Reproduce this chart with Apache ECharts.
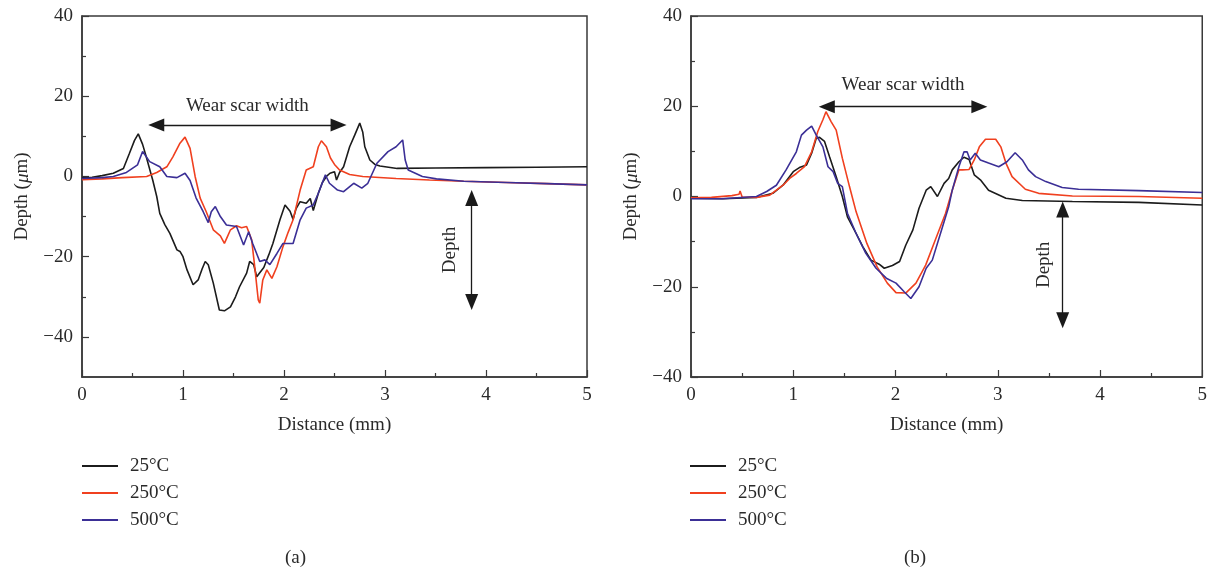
<!DOCTYPE html>
<html>
<head>
<meta charset="utf-8">
<script src="https://cdn.jsdelivr.net/npm/echarts@6/dist/echarts.min.js"></script>
<style>
  html, body { margin: 0; padding: 0; background: #ffffff; }
  #chart { width: 1210px; height: 573px; }
</style>
</head>
<body>
<div id="chart"></div>
<script>
// ---- Series names and tick values ----
const seriesNames = ['25°C', '250°C', '500°C'];
const xTicks = [0, 1, 2, 3, 4, 5];
const yTicksA = [-40, -20, 0, 20, 40];
const yMinorA = [-30, -10, 10, 30];

// ---- Panel (a): surface profiles [distance mm, depth µm] ----
const a25 = [[0,-0.3],[0.1,-0.2],[0.2,0.2],[0.31,0.8],[0.41,2],[0.47,5.8],[0.52,9],[0.557,10.6],[0.6,8],[0.636,4.9],[0.70,-0.9],[0.74,-5],[0.77,-9.2],[0.82,-12],[0.87,-14.2],[0.94,-18.3],[0.97,-18.7],[1.0,-20],[1.04,-23.3],[1.10,-27],[1.15,-25.8],[1.19,-23],[1.22,-21.2],[1.25,-22],[1.30,-26.6],[1.36,-33.3],[1.41,-33.5],[1.47,-32.5],[1.52,-30],[1.56,-27.5],[1.63,-24.1],[1.66,-21.2],[1.70,-22],[1.73,-25],[1.76,-24],[1.80,-22.7],[1.85,-19.5],[1.89,-16.7],[1.96,-10.8],[2.01,-7.1],[2.06,-8.7],[2.09,-10.7],[2.12,-8],[2.16,-6.3],[2.22,-6.7],[2.26,-5.5],[2.29,-8.5],[2.34,-4.2],[2.38,-1.5],[2.42,0],[2.455,0.8],[2.50,1.2],[2.52,-0.9],[2.55,1],[2.59,2.4],[2.65,7.4],[2.70,10.3],[2.75,13.3],[2.78,11],[2.80,7.4],[2.85,4.1],[2.90,3],[2.95,2.6],[3.12,2.0],[3.5,2.1],[4,2.2],[4.5,2.3],[5,2.4]];
const a250 = [[0,-0.8],[0.2,-0.6],[0.4,-0.3],[0.64,0],[0.74,1],[0.84,2.4],[0.90,4.9],[0.97,8.3],[1.02,9.8],[1.07,7],[1.12,0],[1.17,-5.4],[1.23,-8.8],[1.30,-13.3],[1.37,-14.8],[1.41,-16.7],[1.44,-15],[1.47,-13.3],[1.53,-12.3],[1.58,-12.8],[1.63,-12.5],[1.68,-15.8],[1.71,-22.5],[1.745,-30.8],[1.76,-31.6],[1.79,-25.8],[1.83,-23.3],[1.88,-25.4],[1.93,-22.5],[1.99,-17.5],[2.04,-14],[2.09,-10.8],[2.16,-3.4],[2.22,1.6],[2.29,2.4],[2.34,7.4],[2.37,8.9],[2.42,7.4],[2.46,4.6],[2.50,3],[2.55,1.6],[2.65,0.5],[2.78,0],[3.11,-0.5],[3.44,-0.9],[3.78,-1.2],[4.2,-1.5],[4.6,-1.8],[5,-2.1]];
const a500 = [[0,-0.5],[0.2,-0.3],[0.31,0],[0.44,1],[0.55,2.9],[0.60,6.2],[0.67,3.7],[0.77,2.4],[0.84,0],[0.94,-0.3],[1.02,0.8],[1.07,-1],[1.13,-5.4],[1.20,-8.8],[1.25,-11.5],[1.28,-8.8],[1.32,-7.5],[1.37,-10],[1.43,-12.1],[1.53,-12.5],[1.60,-17.1],[1.65,-13.8],[1.69,-16.7],[1.76,-21.2],[1.81,-20.8],[1.86,-22],[1.93,-19.2],[1.99,-16.7],[2.09,-16.7],[2.16,-10.8],[2.22,-7.9],[2.29,-7.1],[2.34,-4.2],[2.41,0.4],[2.45,-1.7],[2.53,-3.4],[2.59,-3.8],[2.69,-1.7],[2.77,-2.9],[2.83,-1.7],[2.92,3.3],[3.03,6.2],[3.11,7.4],[3.175,9.1],[3.20,4.1],[3.23,1.6],[3.37,0],[3.51,-0.6],[3.78,-1.2],[4.2,-1.5],[4.6,-1.8],[5,-2.1]];

// ---- Panel (b): surface profiles [distance mm, depth µm] ----
const b25 = [[0,-0.4],[0.315,-0.5],[0.64,-0.2],[0.80,0.7],[0.90,2.5],[1.00,5.5],[1.06,6.4],[1.13,7],[1.18,9.6],[1.225,12.9],[1.257,13.1],[1.306,12.2],[1.355,8.8],[1.42,4.4],[1.48,0],[1.53,-4.5],[1.615,-8.2],[1.68,-11.1],[1.76,-14.1],[1.84,-15],[1.89,-15.9],[1.97,-15.3],[2.04,-14.4],[2.10,-10.8],[2.17,-7.4],[2.23,-2.6],[2.30,1.4],[2.345,2.2],[2.41,0],[2.475,2.9],[2.52,4],[2.555,5.9],[2.62,7.7],[2.67,8.7],[2.72,8.2],[2.77,4.8],[2.83,3.7],[2.91,1.4],[3.08,-0.4],[3.24,-0.9],[3.73,-1.1],[4.38,-1.3],[5,-1.9]];
const b250 = [[0,-0.3],[0.2,-0.2],[0.4,0.2],[0.47,0.5],[0.48,1.2],[0.50,-0.1],[0.64,-0.2],[0.77,0.3],[0.90,2.5],[0.965,4.0],[1.03,5.1],[1.11,6.6],[1.18,9.9],[1.24,14.4],[1.29,17],[1.32,18.8],[1.37,16.6],[1.42,14.7],[1.48,8.5],[1.55,2.2],[1.615,-3.4],[1.72,-10.4],[1.82,-15.6],[1.92,-19.2],[2.005,-21.3],[2.10,-21.4],[2.20,-19.2],[2.295,-15.2],[2.39,-9.6],[2.49,-3.7],[2.555,1.4],[2.62,5.9],[2.655,5.9],[2.72,6],[2.77,8.1],[2.82,11],[2.88,12.7],[2.98,12.7],[3.03,11],[3.08,7.4],[3.14,4.4],[3.27,1.6],[3.40,0.7],[3.73,0.1],[4.38,0],[5,-0.4]];
const b500 = [[0,-0.5],[0.3,-0.5],[0.64,0],[0.74,1.1],[0.835,2.5],[0.93,5.9],[1.03,9.9],[1.08,13.6],[1.13,14.7],[1.18,15.6],[1.225,13.6],[1.29,11],[1.34,6.6],[1.39,5.5],[1.435,2.9],[1.48,2.2],[1.53,-3.7],[1.615,-8.2],[1.71,-12.6],[1.81,-15.9],[1.91,-18.1],[2.005,-19.2],[2.085,-21.1],[2.15,-22.6],[2.23,-20],[2.30,-15.9],[2.36,-14.1],[2.46,-6.7],[2.52,-2.3],[2.555,1.4],[2.62,6.6],[2.67,9.9],[2.70,9.9],[2.73,8.1],[2.78,9.6],[2.83,8.1],[2.91,7.4],[3.01,6.6],[3.09,7.7],[3.17,9.7],[3.24,8.1],[3.30,5.9],[3.37,4.4],[3.47,3.3],[3.63,2],[3.79,1.6],[4.38,1.3],[5,0.9]];

// ---- Annotation arrows (data coordinates) ----
const widthArrowA = [[0.735, 12.8], [2.54, 12.8]];
const depthArrowA = [[3.858, -31.3], [3.858, -5.4]];
const widthArrowB = [[1.328, 19.9], [2.82, 19.9]];
const depthArrowB = [[3.635, -27.4], [3.635, -2.9]];

const colors = ['#1c1c1c', '#f0401f', '#3b2f96'];
const FONT = 'Liberation Serif';
const FS = 19;
const TEXT = '#2a2a2a';
const AXIS = '#3a3a3a';
const minus = v => String(v).replace('-', '\u2212');

function xAxisFor(gridIndex) {
  return {
    type: 'value', gridIndex, min: 0, max: 5, interval: 1,
    name: 'Distance (mm)', nameLocation: 'middle', nameGap: 39,
    nameTextStyle: { fontFamily: FONT, fontSize: FS, color: TEXT },
    axisLine: { show: true, onZero: false, lineStyle: { color: AXIS, width: 1.5 } },
    axisTick: { show: true, inside: true, length: 7, lineStyle: { color: AXIS, width: 1.2 } },
    minorTick: { show: true, splitNumber: 2, length: 4, lineStyle: { color: AXIS, width: 1.2 } },
    axisLabel: { fontFamily: FONT, fontSize: FS, color: TEXT, margin: 9 },
    splitLine: { show: false }, minorSplitLine: { show: false }
  };
}

const yName = '{r|Depth (}{i|\u03bc}{r|m)}';
const yNameStyle = {
  rich: {
    r: { fontFamily: FONT, fontSize: FS, color: TEXT },
    i: { fontFamily: FONT, fontSize: FS, color: TEXT, fontStyle: 'italic' }
  }
};

function arrowLine(pts, labelText, labelPos, dist) {
  return {
    silent: true, animation: false,
    symbol: ['triangle', 'triangle'], symbolSize: [13, 16],
    lineStyle: { color: '#1a1a1a', width: 1.3, type: 'solid' },
    label: {
      show: true, formatter: labelText, position: labelPos, distance: dist,
      fontFamily: FONT, fontSize: FS, color: TEXT
    },
    data: [[{ coord: pts[0] }, { coord: pts[1] }]]
  };
}

function lineSeries(name, data, idx, xi, yi, markLine) {
  const s = {
    name, type: 'line', data, xAxisIndex: xi, yAxisIndex: yi,
    showSymbol: false, symbol: 'none', smooth: false,
    lineStyle: { color: colors[idx], width: 1.6 },
    itemStyle: { color: colors[idx] }, z: 3
  };
  if (markLine) s.markLine = markLine;
  return s;
}

const legendBase = {
  orient: 'vertical', top: 456, padding: 0, itemWidth: 36, itemHeight: 2, itemGap: 7,
  icon: 'rect', data: seriesNames,
  textStyle: { fontFamily: FONT, fontSize: FS, color: TEXT, lineHeight: 20, padding: [0, 0, 0, 7] }
};

const chart = echarts.init(document.getElementById('chart'), null, { renderer: 'canvas' });
chart.setOption({
  animation: false,
  backgroundColor: '#ffffff',
  title: [
    { text: '(a)', left: 280, top: 544, textStyle: { fontFamily: FONT, fontSize: FS, fontWeight: 'normal', color: TEXT } },
    { text: '(b)', left: 899, top: 544, textStyle: { fontFamily: FONT, fontSize: FS, fontWeight: 'normal', color: TEXT } }
  ],
  legend: [
    Object.assign({}, legendBase, { left: 82 }),
    Object.assign({}, legendBase, { left: 690 })
  ],
  grid: [
    { left: 82, top: 16, width: 505, height: 361, show: true, borderColor: AXIS, borderWidth: 1.5, backgroundColor: 'transparent' },
    { left: 691, top: 16, width: 513, height: 361, show: true, borderColor: AXIS, borderWidth: 1.5, backgroundColor: 'transparent' }
  ],
  xAxis: [xAxisFor(0), xAxisFor(1)],
  yAxis: [
    {
      type: 'value', gridIndex: 0, min: -50, max: 40, position: 'left',
      name: yName, nameLocation: 'middle', nameGap: 50, nameTextStyle: yNameStyle,
      axisLine: { show: true, onZero: false, lineStyle: { color: AXIS, width: 1.5 } },
      axisTick: { show: true, inside: true, length: 7, customValues: yTicksA, lineStyle: { color: AXIS, width: 1.2 } },
      axisLabel: { fontFamily: FONT, fontSize: FS, color: TEXT, margin: 9, customValues: yTicksA, formatter: minus },
      splitLine: { show: false }
    },
    {
      type: 'value', gridIndex: 0, min: -50, max: 40, position: 'left', offset: 0,
      axisLine: { show: false, onZero: false },
      axisTick: { show: true, inside: true, length: 4, customValues: yMinorA, lineStyle: { color: AXIS, width: 1.2 } },
      axisLabel: { show: false },
      splitLine: { show: false }
    },
    {
      type: 'value', gridIndex: 1, min: -40, max: 40, interval: 20, position: 'left',
      name: yName, nameLocation: 'middle', nameGap: 50, nameTextStyle: yNameStyle,
      axisLine: { show: true, onZero: false, lineStyle: { color: AXIS, width: 1.5 } },
      axisTick: { show: true, inside: true, length: 7, lineStyle: { color: AXIS, width: 1.2 } },
      minorTick: { show: true, splitNumber: 2, length: 4, lineStyle: { color: AXIS, width: 1.2 } },
      axisLabel: { fontFamily: FONT, fontSize: FS, color: TEXT, margin: 9, formatter: minus },
      splitLine: { show: false }, minorSplitLine: { show: false }
    }
  ],
  series: [
    lineSeries(seriesNames[0], a25, 0, 0, 0, arrowLine(widthArrowA, 'Wear scar width', 'insideMiddleTop', 10)),
    lineSeries(seriesNames[1], a250, 1, 0, 0, arrowLine(depthArrowA, 'Depth', 'insideMiddleTop', 12)),
    lineSeries(seriesNames[2], a500, 2, 0, 0),
    lineSeries(seriesNames[0], b25, 0, 1, 2, arrowLine(widthArrowB, 'Wear scar width', 'insideMiddleTop', 12)),
    lineSeries(seriesNames[1], b250, 1, 1, 2, arrowLine(depthArrowB, 'Depth', 'insideMiddleTop', 9)),
    lineSeries(seriesNames[2], b500, 2, 1, 2)
  ]
});
</script>
</body>
</html>
